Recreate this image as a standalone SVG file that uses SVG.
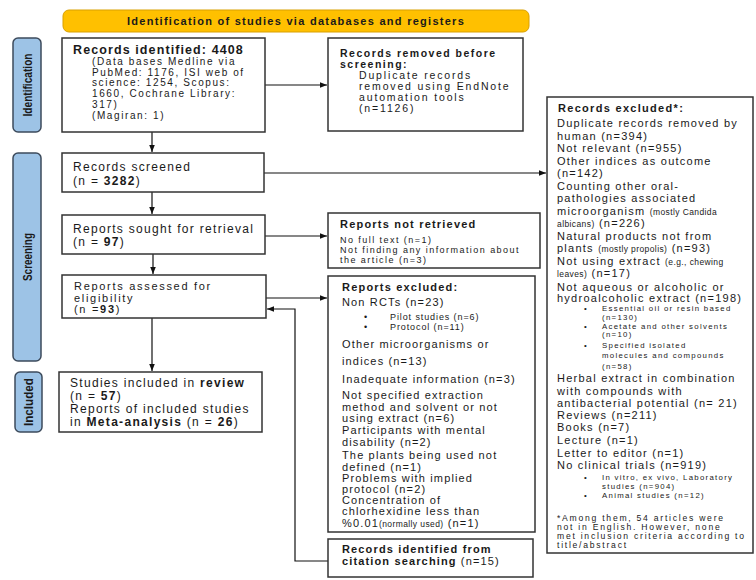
<svg xmlns="http://www.w3.org/2000/svg" width="756" height="580" viewBox="0 0 756 580">
<defs>
<marker id="ah" viewBox="0 0 10 10" refX="10" refY="5" markerWidth="7" markerHeight="7" markerUnits="userSpaceOnUse" orient="auto"><path d="M0,1 L10,5 L0,9 z" fill="#111"/></marker>
<style>
text{font-family:"Liberation Sans",Arial,sans-serif;fill:#1a1a1a}
.box{fill:#fff;stroke:#333;stroke-width:1.5}
.lab{fill:#9dc3e6;stroke:#3d4b5c;stroke-width:1.5}
.labt{font-size:12.5px;font-weight:bold;text-anchor:middle}
.b{font-weight:bold}
.c{stroke:#111;stroke-width:1.2;fill:none}
.L{font-size:12px;letter-spacing:1.3px}
.LA{font-size:11px;letter-spacing:1.7px}
.R{font-size:11px;letter-spacing:1.25px}
.M{font-size:11px;letter-spacing:1.15px}
.RR{font-size:10.5px;letter-spacing:1.85px}
.I{font-size:10px;letter-spacing:1.6px}
.bl{font-size:9px;letter-spacing:0.9px}
.sb{font-size:7.8px;letter-spacing:1.3px}
.fn{font-size:8.6px;letter-spacing:1.75px}
.nr{font-size:9px;letter-spacing:1.45px}
.s{font-size:8.5px;letter-spacing:0.4px}
</style>
</defs>
<rect width="756" height="580" fill="#fff"/>

<g id="header">
<rect x="63" y="10" width="466" height="22" rx="6" fill="#ffc000" stroke="#d9a000" stroke-width="1"/>
<text x="296" y="25" class="b" font-size="11" letter-spacing="1.27" text-anchor="middle">Identification of studies via databases and registers</text>
</g>

<g id="label-identification">
<rect class="lab" x="13" y="38" width="28" height="94" rx="5"/>
<text class="labt" transform="translate(32,85) rotate(-90)" textLength="63" lengthAdjust="spacingAndGlyphs">Identification</text>
</g>
<g id="label-screening">
<rect class="lab" x="13" y="153" width="28" height="208" rx="5"/>
<text class="labt" transform="translate(32,257) rotate(-90)" textLength="48" lengthAdjust="spacingAndGlyphs">Screening</text>
</g>
<g id="label-included">
<rect class="lab" x="15" y="372" width="27" height="60" rx="5"/>
<text class="labt" transform="translate(33,402) rotate(-90)" textLength="48" lengthAdjust="spacingAndGlyphs">Included</text>
</g>

<g id="connectors">
<path class="c" d="M152,132 V152" marker-end="url(#ah)"/>
<path class="c" d="M265,85 H327" marker-end="url(#ah)"/>
<path class="c" d="M264,173 H546" marker-end="url(#ah)"/>
<path class="c" d="M152,192 V214" marker-end="url(#ah)"/>
<path class="c" d="M265,236 H327" marker-end="url(#ah)"/>
<path class="c" d="M153,254 V274" marker-end="url(#ah)"/>
<path class="c" d="M266,298 H327" marker-end="url(#ah)"/>
<path class="c" d="M152,318 V371" marker-end="url(#ah)"/>
<path class="c" d="M328,561 H295 V309 H267" marker-end="url(#ah)"/>
</g>

<g id="records-identified">
<rect class="box" x="62" y="38" width="203" height="94"/>
<text class="b" x="73" y="54" font-size="12.5" letter-spacing="1.1">Records identified: 4408</text>
<text class="I" x="92" y="65">(Data bases Medline via</text>
<text class="I" x="92" y="75.5">PubMed: 1176, ISI web of</text>
<text class="I" x="92" y="86">science: 1254, Scopus:</text>
<text class="I" x="92" y="97">1660, Cochrane Library:</text>
<text class="I" x="92" y="107.5">317)</text>
<text class="I" x="92" y="119">(Magiran: 1)</text>
</g>

<g id="records-removed">
<rect class="box" x="328" y="38" width="195" height="93"/>
<text class="b" x="340" y="57" font-size="10.5" letter-spacing="1.5">Records removed before</text>
<text class="b" x="340" y="68" font-size="10.5" letter-spacing="1.5">screening:</text>
<text class="RR" x="359" y="79">Duplicate records</text>
<text class="RR" x="359" y="90">removed using EndNote</text>
<text class="RR" x="359" y="101">automation tools</text>
<text class="RR" x="359" y="112">(n=1126)</text>
</g>

<g id="records-screened">
<rect class="box" x="62" y="153" width="202" height="39"/>
<text class="L" x="73" y="171">Records screened</text>
<text class="L" x="73" y="185">(n = <tspan class="b">3282</tspan>)</text>
</g>

<g id="reports-sought">
<rect class="box" x="62" y="215" width="203" height="39"/>
<text class="L" x="73" y="233">Reports sought for retrieval</text>
<text class="L" x="73" y="246">(n = <tspan class="b">97</tspan>)</text>
</g>

<g id="reports-assessed">
<rect class="box" x="62" y="275" width="204" height="43"/>
<text class="LA" x="74" y="290">Reports assessed for</text>
<text class="LA" x="74" y="301.5">eligibility</text>
<text class="LA" x="74" y="313">(n =<tspan class="b">93</tspan>)</text>
</g>

<g id="studies-included">
<rect class="box" x="59" y="372" width="203" height="60"/>
<text class="L" x="70" y="387">Studies included in <tspan class="b">review</tspan></text>
<text class="L" x="70" y="399.5">(n = <tspan class="b">57</tspan>)</text>
<text class="L" x="70" y="412.5">Reports of included studies</text>
<text class="L" x="70" y="426">in <tspan class="b">Meta-analysis</tspan> (n = <tspan class="b">26</tspan>)</text>
</g>

<g id="reports-not-retrieved">
<rect class="box" x="328" y="213" width="212" height="55"/>
<text class="b" x="340" y="228" font-size="11" letter-spacing="1.2">Reports not retrieved</text>
<text class="nr" x="340" y="243">No full text (n=1)</text>
<text class="nr" x="340" y="253">Not finding any information about</text>
<text class="nr" x="340" y="263">the article (n=3)</text>
</g>

<g id="reports-excluded">
<rect class="box" x="328" y="276" width="207" height="256"/>
<text class="b" x="342" y="291" font-size="11" letter-spacing="1.2">Reports excluded:</text>
<text class="M" x="342" y="306">Non RCTs (n=23)</text>
<text class="bl" x="364" y="320">•</text><text class="bl" x="390" y="320">Pilot studies (n=6)</text>
<text class="bl" x="364" y="330">•</text><text class="bl" x="390" y="330">Protocol (n=11)</text>
<text class="M" x="342" y="348">Other microorganisms or</text>
<text class="M" x="342" y="365">indices (n=13)</text>
<text class="M" x="342" y="383">Inadequate information (n=3)</text>
<text class="M" x="342" y="399">Not specified extraction</text>
<text class="M" x="342" y="410.5">method and solvent or not</text>
<text class="M" x="342" y="422">using extract (n=6)</text>
<text class="M" x="342" y="434">Participants with mental</text>
<text class="M" x="342" y="446">disability (n=2)</text>
<text class="M" x="342" y="459">The plants being used not</text>
<text class="M" x="342" y="471">defined (n=1)</text>
<text class="M" x="342" y="482">Problems with implied</text>
<text class="M" x="342" y="493">protocol (n=2)</text>
<text class="M" x="342" y="504">Concentration of</text>
<text class="M" x="342" y="515">chlorhexidine less than</text>
<text class="M" x="342" y="526.5">%0.01<tspan class="s">(normally used)</tspan> (n=1)</text>
</g>

<g id="citation-searching">
<rect class="box" x="328" y="539" width="205" height="38"/>
<text x="342" y="553" font-size="11" letter-spacing="1.14"><tspan class="b">Records identified from</tspan></text>
<text x="342" y="565" font-size="11" letter-spacing="1.14"><tspan class="b">citation searching</tspan> (n=15)</text>
</g>

<g id="records-excluded">
<rect class="box" x="547" y="97" width="206" height="456"/>
<text class="b" x="558" y="112" font-size="11" letter-spacing="1.3">Records excluded*:</text>
<text class="R" x="557" y="127">Duplicate records removed by</text>
<text class="R" x="557" y="140">human (n=394)</text>
<text class="R" x="557" y="152">Not relevant (n=955)</text>
<text class="R" x="557" y="165">Other indices as outcome</text>
<text class="R" x="557" y="177">(n=142)</text>
<text class="R" x="557" y="190">Counting other oral-</text>
<text class="R" x="557" y="202">pathologies associated</text>
<text class="R" x="557" y="215">microorganism <tspan class="s">(mostly Candida</tspan></text>
<text class="R" x="557" y="227"><tspan class="s">albicans)</tspan> (n=226)</text>
<text class="R" x="557" y="240">Natural products not from</text>
<text class="R" x="557" y="252">plants <tspan class="s">(mostly propolis)</tspan> (n=93)</text>
<text class="R" x="557" y="265">Not using extract <tspan class="s">(e.g., chewing</tspan></text>
<text class="R" x="557" y="277"><tspan class="s">leaves)</tspan> (n=17)</text>
<text class="R" x="557" y="290.5">Not aqueous or alcoholic or</text>
<text class="R" x="557" y="302">hydroalcoholic extract (n=198)</text>
<text class="sb" x="584" y="311">•</text><text class="sb" x="602" y="311">Essential oil or resin based</text>
<text class="sb" x="602" y="319.5">(n=130)</text>
<text class="sb" x="584" y="328.5">•</text><text class="sb" x="602" y="328.5">Acetate and other solvents</text>
<text class="sb" x="602" y="337">(n=10)</text>
<text class="sb" x="584" y="348">•</text><text class="sb" x="602" y="348">Specified isolated</text>
<text class="sb" x="602" y="358">molecules and compounds</text>
<text class="sb" x="602" y="369">(n=58)</text>
<text class="R" x="557" y="382">Herbal extract in combination</text>
<text class="R" x="557" y="395">with compounds with</text>
<text class="R" x="557" y="407">antibacterial potential (n= 21)</text>
<text class="R" x="557" y="419">Reviews (n=211)</text>
<text class="R" x="557" y="431">Books (n=7)</text>
<text class="R" x="557" y="444">Lecture (n=1)</text>
<text class="R" x="557" y="457">Letter to editor (n=1)</text>
<text class="R" x="557" y="469">No clinical trials (n=919)</text>
<text class="sb" x="584" y="480">•</text><text class="sb" x="602" y="480">In vitro, ex vivo, Laboratory</text>
<text class="sb" x="602" y="489">studies (n=904)</text>
<text class="sb" x="584" y="497.5">•</text><text class="sb" x="602" y="497.5">Animal studies (n=12)</text>
<text class="fn" x="557" y="521">*Among them, 54 articles were</text>
<text class="fn" x="557" y="530">not in English. However, none</text>
<text class="fn" x="557" y="539">met inclusion criteria according to</text>
<text class="fn" x="557" y="548">title/abstract</text>
</g>
</svg>
